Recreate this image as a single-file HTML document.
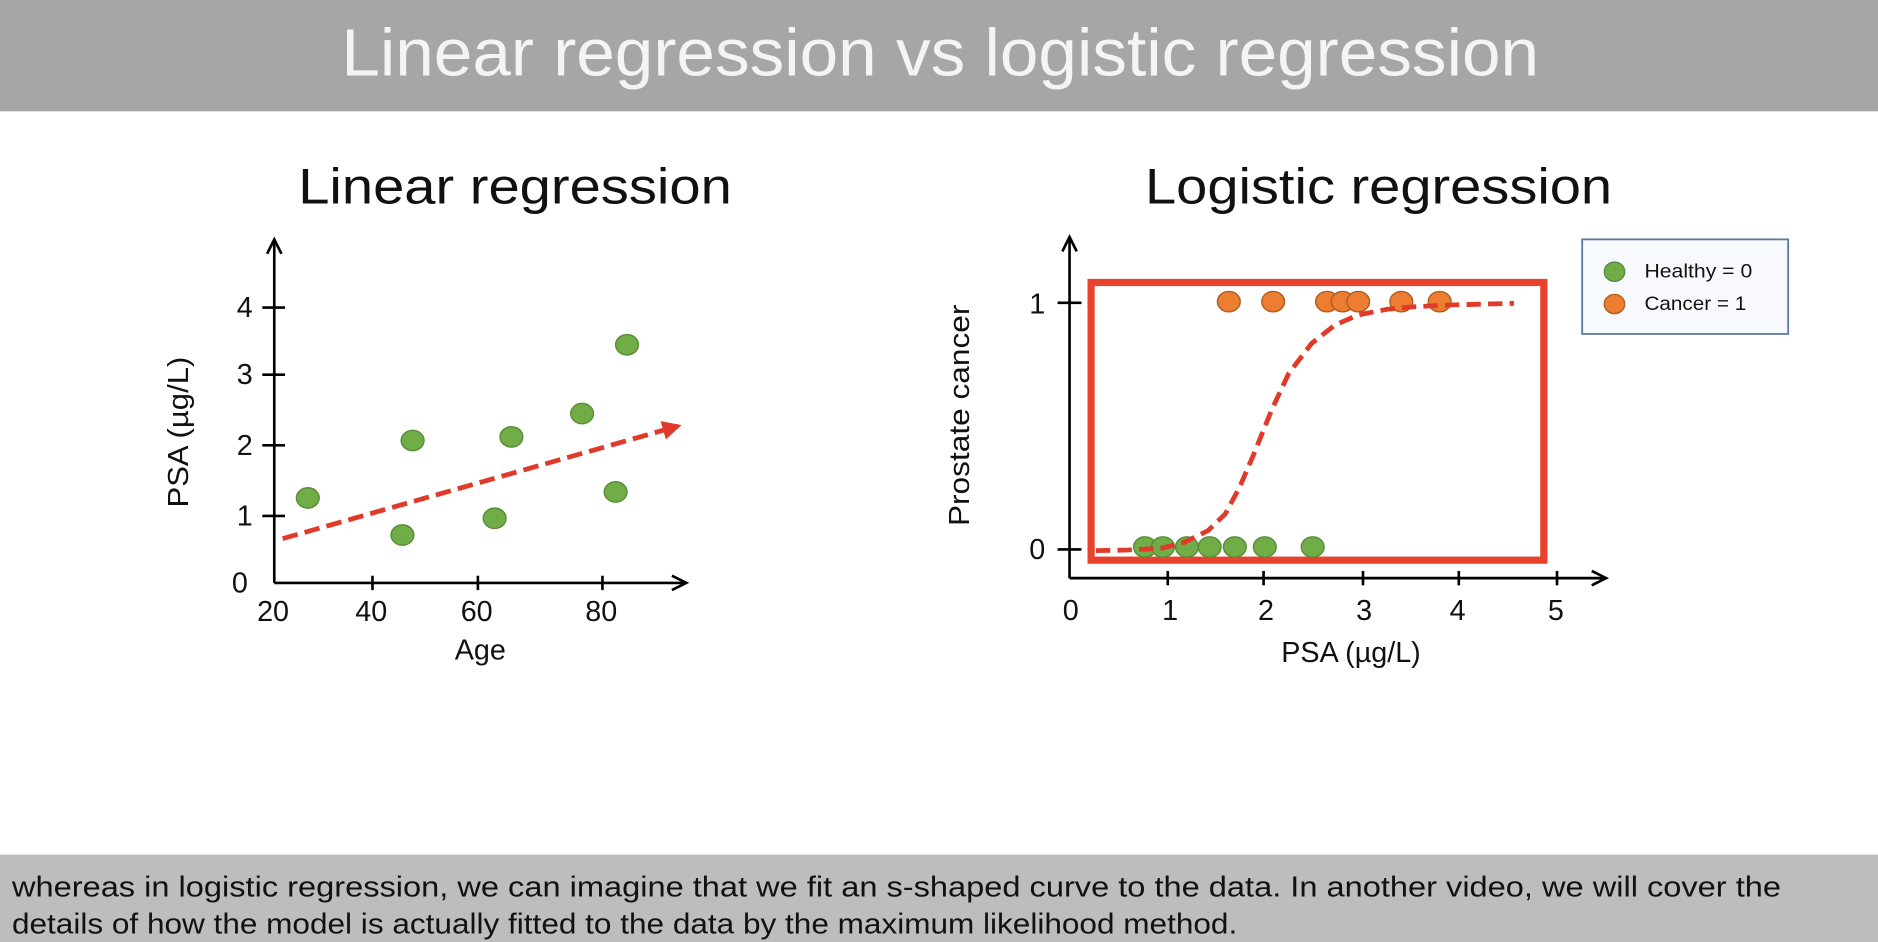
<!DOCTYPE html>
<html><head><meta charset="utf-8"><style>
html,body{margin:0;padding:0;background:#fff;overflow:hidden}
svg{display:block}
text{font-family:"Liberation Sans",sans-serif}
</style></head><body>
<svg width="1878" height="942" viewBox="0 0 1568 787" preserveAspectRatio="none" xmlns="http://www.w3.org/2000/svg">
<defs>
<marker id="ah" viewBox="0 0 10 10" refX="8" refY="5" markerWidth="4" markerHeight="4" orient="auto"><path d="M0,0 L10,5 L0,10 z" fill="#e03a2a"/></marker>
</defs>
<rect x="0" y="0" width="1568" height="93" fill="#a6a6a6"/>
<text x="785" y="63" font-size="56" fill="#f4f4f4" text-anchor="middle" textLength="1000" lengthAdjust="spacingAndGlyphs">Linear regression vs logistic regression</text>

<text x="430" y="170" font-size="42" fill="#111" text-anchor="middle" textLength="362" lengthAdjust="spacingAndGlyphs">Linear regression</text>
<text x="1151" y="170" font-size="42" fill="#111" text-anchor="middle" textLength="390" lengthAdjust="spacingAndGlyphs">Logistic regression</text>

<!-- left chart -->
<g stroke="#000" stroke-width="2.2" fill="none">
<line x1="229" y1="487" x2="229" y2="202"/>
<polyline points="223,212 229,200 235,212"/>
<line x1="229" y1="487" x2="571" y2="487"/>
<polyline points="561,481 573,487 561,493"/>
<line x1="219" y1="257" x2="238" y2="257"/>
<line x1="219" y1="313" x2="238" y2="313"/>
<line x1="219" y1="372" x2="238" y2="372"/>
<line x1="219" y1="431" x2="238" y2="431"/>
<line x1="311" y1="481" x2="311" y2="493"/>
<line x1="399" y1="481" x2="399" y2="493"/>
<line x1="503" y1="481" x2="503" y2="493"/>
</g>
<g font-size="24" fill="#111" text-anchor="end">
<text x="211" y="265">4</text><text x="211" y="321">3</text><text x="211" y="380">2</text><text x="211" y="439">1</text><text x="207" y="495">0</text>
</g>
<g font-size="24" fill="#111" text-anchor="middle">
<text x="228" y="519">20</text><text x="310" y="519">40</text><text x="398" y="519">60</text><text x="502" y="519">80</text>
<text x="401" y="551">Age</text>
</g>
<text transform="translate(157,361) rotate(-90)" font-size="24" fill="#111" text-anchor="middle" textLength="126" lengthAdjust="spacingAndGlyphs">PSA (µg/L)</text>
<g fill="#70ad47" stroke="#5a8c3a" stroke-width="1.2">
<ellipse cx="257" cy="416" rx="9.5" ry="8.5"/>
<ellipse cx="336" cy="447" rx="9.5" ry="8.5"/>
<ellipse cx="344.5" cy="368" rx="9.5" ry="8.5"/>
<ellipse cx="413" cy="433" rx="9.5" ry="8.5"/>
<ellipse cx="427" cy="365" rx="9.5" ry="8.5"/>
<ellipse cx="486" cy="345.5" rx="9.5" ry="8.5"/>
<ellipse cx="514" cy="411" rx="9.5" ry="8.5"/>
<ellipse cx="523.5" cy="288" rx="9.5" ry="8.5"/>
</g>
<line x1="236" y1="450" x2="566" y2="356" stroke="#e03a2a" stroke-width="4" stroke-dasharray="13,6" marker-end="url(#ah)"/>

<!-- right chart -->
<g stroke="#000" stroke-width="2.2" fill="none">
<line x1="893" y1="483" x2="893" y2="200"/>
<polyline points="887,210 893,198 899,210"/>
<line x1="893" y1="483" x2="1339" y2="483"/>
<polyline points="1329,477 1341,483 1329,489"/>
<line x1="883" y1="253" x2="903" y2="253"/>
<line x1="883" y1="459" x2="903" y2="459"/>
<line x1="975" y1="477" x2="975" y2="489"/>
<line x1="1055" y1="477" x2="1055" y2="489"/>
<line x1="1138" y1="477" x2="1138" y2="489"/>
<line x1="1218" y1="477" x2="1218" y2="489"/>
<line x1="1300" y1="477" x2="1300" y2="489"/>
</g>
<g font-size="24" fill="#111" text-anchor="middle">
<text x="866" y="262">1</text><text x="866" y="467">0</text>
<text x="894" y="518">0</text><text x="977" y="518">1</text><text x="1057" y="518">2</text><text x="1139" y="518">3</text><text x="1217" y="518">4</text><text x="1299" y="518">5</text>
<text x="1128" y="553">PSA (µg/L)</text>
</g>
<text transform="translate(809,347) rotate(-90)" font-size="24" fill="#111" text-anchor="middle" textLength="185" lengthAdjust="spacingAndGlyphs">Prostate cancer</text>
<rect x="911" y="236" width="378" height="232" fill="none" stroke="#e8412c" stroke-width="6"/>
<g fill="#70ad47" stroke="#5a8c3a" stroke-width="1.2">
<ellipse cx="956" cy="457" rx="9.5" ry="8.5"/><ellipse cx="971" cy="457" rx="9.5" ry="8.5"/><ellipse cx="991" cy="457" rx="9.5" ry="8.5"/><ellipse cx="1010" cy="457" rx="9.5" ry="8.5"/><ellipse cx="1031" cy="457" rx="9.5" ry="8.5"/><ellipse cx="1056" cy="457" rx="9.5" ry="8.5"/><ellipse cx="1096" cy="457" rx="9.5" ry="8.5"/>
</g>
<g fill="#ed7d31" stroke="#b05e24" stroke-width="1.2">
<ellipse cx="1026" cy="252" rx="9.5" ry="8.5"/><ellipse cx="1063" cy="252" rx="9.5" ry="8.5"/><ellipse cx="1108" cy="252" rx="9.5" ry="8.5"/><ellipse cx="1121" cy="252" rx="9.5" ry="8.5"/><ellipse cx="1134" cy="252" rx="9.5" ry="8.5"/><ellipse cx="1170" cy="252" rx="9.5" ry="8.5"/><ellipse cx="1202" cy="252" rx="9.5" ry="8.5"/>
</g>
<polyline fill="none" stroke="#e03a2a" stroke-width="4" stroke-dasharray="12,6" stroke-linejoin="round" points="915,460 941,459.5 970,458 989,453 1008.6,443.3 1023,429.4 1035,407 1047,379 1061.6,342.8 1076,312 1095,287 1114.6,271.5 1133.8,263.2 1158,258.4 1182,256.2 1211,254.8 1264,253.4"/>
<rect x="1321" y="200" width="172" height="79" fill="#f7f9fc" stroke="#5a78a8" stroke-width="1.5"/>
<ellipse cx="1348" cy="227" rx="8.5" ry="8" fill="#70ad47" stroke="#5a8c3a" stroke-width="1.2"/>
<ellipse cx="1348" cy="254" rx="8.5" ry="8" fill="#ed7d31" stroke="#b05e24" stroke-width="1.2"/>
<text x="1373" y="232" font-size="16" fill="#111" textLength="90" lengthAdjust="spacingAndGlyphs">Healthy = 0</text>
<text x="1373" y="259" font-size="16" fill="#111" textLength="85" lengthAdjust="spacingAndGlyphs">Cancer = 1</text>

<rect x="0" y="714" width="1568" height="73" fill="#bdbdbd"/>
<text x="10" y="749" font-size="24" fill="#111" textLength="1477" lengthAdjust="spacingAndGlyphs">whereas in logistic regression, we can imagine that we fit an s-shaped curve to the data. In another video, we will cover the</text>
<text x="10" y="780" font-size="24" fill="#111" textLength="1023" lengthAdjust="spacingAndGlyphs">details of how the model is actually fitted to the data by the maximum likelihood method.</text>
</svg>
</body></html>
